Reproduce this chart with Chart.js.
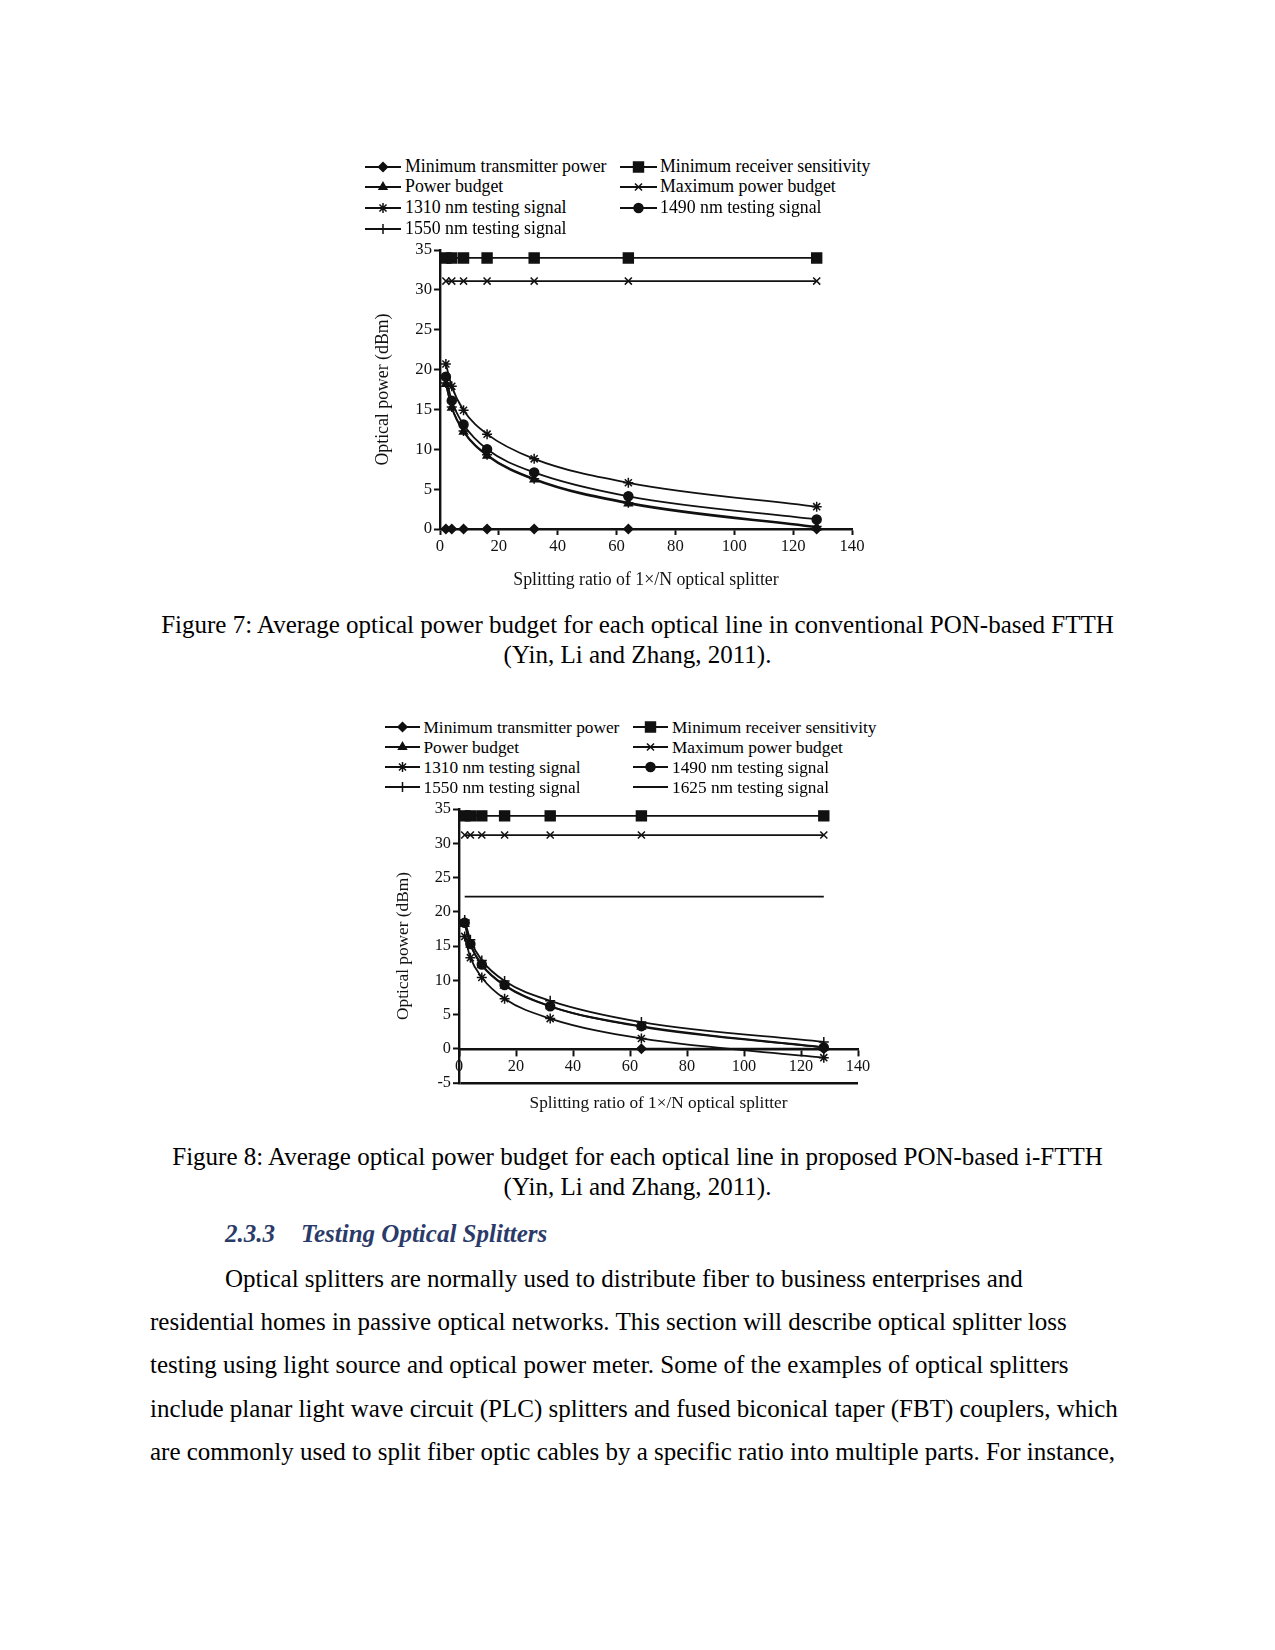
<!DOCTYPE html>
<html>
<head>
<meta charset="utf-8">
<title>Optical power budget - Figures 7 and 8</title>
<script src="https://cdn.jsdelivr.net/npm/chart.js@4.4.1/dist/chart.umd.min.js"></script>
<style>
    html, body { margin: 0; padding: 0; background: #fff; }
    body { width: 1275px; height: 1650px; position: relative; overflow: hidden;
           font-family: "Liberation Serif", "Times New Roman", serif; color: #000; }
    .txt { position: absolute; white-space: nowrap; font-size: 25px; line-height: 25px; }
    .center { left: 0; width: 1275px; text-align: center; }
    .heading { font-weight: bold; font-style: italic; color: #2b3b69; }
    .lg { position: absolute; white-space: nowrap; }
    canvas.chart { position: absolute; }
</style>
</head>
<body>

<canvas id="fig7" class="chart" width="530" height="370" style="left:355px;top:232px;width:530px;height:370px"></canvas>
<div id="fig7Legend"></div>
<div class="txt center" style="top:612px">Figure 7: Average optical power budget for each optical line in conventional PON-based FTTH</div>
<div class="txt center" style="top:642px">(Yin, Li and Zhang, 2011).</div>

<canvas id="fig8" class="chart" width="520" height="335" style="left:370px;top:790px;width:520px;height:335px"></canvas>
<div id="fig8Legend"></div>
<div class="txt center" style="top:1144px">Figure 8: Average optical power budget for each optical line in proposed PON-based i-FTTH</div>
<div class="txt center" style="top:1174px">(Yin, Li and Zhang, 2011).</div>

<div class="txt heading" style="left:225px;top:1221px">2.3.3</div>
<div class="txt heading" style="left:301px;top:1221px">Testing Optical Splitters</div>

<div class="txt" style="left:225px;top:1266px">Optical splitters are normally used to distribute fiber to business enterprises and</div>
<div class="txt" style="left:150px;top:1309px">residential homes in passive optical networks. This section will describe optical splitter loss</div>
<div class="txt" style="left:150px;top:1352px">testing using light source and optical power meter. Some of the examples of optical splitters</div>
<div class="txt" style="left:150px;top:1396px">include planar light wave circuit (PLC) splitters and fused biconical taper (FBT) couplers, which</div>
<div class="txt" style="left:150px;top:1439px">are commonly used to split fiber optic cables by a specific ratio into multiple parts. For instance,</div>

<script>
// ============================================
// Optical power budget vs splitting ratio (Fig. 7 & Fig. 8)
// ============================================

// --- Data ---
const splitRatios = [2, 4, 8, 16, 32, 64, 128];
const xTickValues = [0, 20, 40, 60, 80, 100, 120, 140];
const fig7YTicks = [0, 5, 10, 15, 20, 25, 30, 35];
const fig8YTicks = [-5, 0, 5, 10, 15, 20, 25, 30, 35];

// Figure 7: conventional PON-based FTTH
const fig7MinTransmitter = [0, 0, 0, 0, 0, 0, 0];
const fig7PowerBudget = [18.2, 15.2, 12.2, 9.2, 6.2, 3.2, 0.2];
const fig7Signal1310 = [20.7, 17.9, 14.9, 11.9, 8.8, 5.8, 2.8];
const fig7Signal1550 = [18.3, 15.3, 12.3, 9.3, 6.3, 3.3, 0.3];
const fig7MinReceiver = [34, 34, 34, 34, 34, 34, 34];
const fig7MaxBudget = [31.1, 31.1, 31.1, 31.1, 31.1, 31.1, 31.1];
const fig7Signal1490 = [19.1, 16.1, 13.1, 10.0, 7.1, 4.1, 1.2];

// Figure 8: proposed PON-based i-FTTH (transmitter marks only show from 1x64)
const fig8MinTransmitter = [null, null, null, null, null, 0, 0];
const fig8PowerBudget = [18.2, 15.2, 12.2, 9.2, 6.2, 3.2, 0.2];
const fig8Signal1310 = [16.4, 13.3, 10.4, 7.3, 4.4, 1.5, -1.3];
const fig8Signal1550 = [18.8, 15.9, 12.9, 9.9, 7.0, 3.9, 1.0];
const fig8MinReceiver = [34, 34, 34, 34, 34, 34, 34];
const fig8MaxBudget = [31.2, 31.2, 31.2, 31.2, 31.2, 31.2, 31.2];
const fig8Signal1490 = [18.4, 15.3, 12.3, 9.3, 6.2, 3.3, 0.2];
const fig8Signal1625 = [22.2, 22.2, 22.2, 22.2, 22.2, 22.2, 22.2];

// --- Styling helpers ---
const INK = '#111';
const SERIF = '"Liberation Serif", "Times New Roman", serif';

function series(label, values, pointStyle, radius) {
    return {
        label,
        data: splitRatios.map((n, i) => ({ x: n, y: values[i] })),
        borderColor: INK, backgroundColor: INK, borderWidth: 1.8,
        pointStyle, pointRadius: radius, pointBorderWidth: 1.5,
        pointBackgroundColor: INK, pointBorderColor: INK,
        cubicInterpolationMode: 'monotone', fill: false, clip: false
    };
}

function fixedTicks(values) {
    return scale => { scale.ticks = values.map(v => ({ value: v })); };
}

function buildChart(id, datasets, cfg) {
    return new Chart(document.getElementById(id), {
        type: 'line',
        data: { datasets },
        options: {
            responsive: false, animation: false, events: [],
            layout: { padding: cfg.padding },
            plugins: { legend: { display: false }, tooltip: { enabled: false } },
            scales: {
                x: {
                    type: 'linear', min: 0, max: 140, position: cfg.xPosition,
                    afterBuildTicks: fixedTicks(xTickValues),
                    afterFit: s => { s.height = cfg.xHeight; },
                    border: { color: INK, width: 2.4 },
                    grid: { drawOnChartArea: false, tickLength: 6, tickColor: INK, tickWidth: 2 },
                    ticks: { color: INK, font: { family: SERIF, size: cfg.tickSize }, padding: 2, maxRotation: 0, autoSkip: false },
                    title: { display: true, text: 'Splitting ratio of 1×/N optical splitter', color: INK,
                             font: { family: SERIF, size: cfg.titleSize }, padding: { top: 0, bottom: cfg.xTitlePad } }
                },
                y: {
                    type: 'linear', min: cfg.yTicks[0], max: cfg.yTicks[cfg.yTicks.length - 1],
                    afterBuildTicks: fixedTicks(cfg.yTicks),
                    afterFit: s => { s.width = cfg.yWidth; },
                    border: { color: INK, width: 2.4 },
                    grid: {
                        drawOnChartArea: true,
                        color: c => (c.tick && c.tick.value === cfg.baseLine) ? INK : 'rgba(0,0,0,0)',
                        lineWidth: c => (c.tick && c.tick.value === cfg.baseLine) ? 2.4 : 1,
                        tickLength: 6, tickColor: INK, tickWidth: 2
                    },
                    ticks: { color: INK, font: { family: SERIF, size: cfg.tickSize }, padding: 2, autoSkip: false },
                    title: { display: true, text: 'Optical power (dBm)', color: INK,
                             font: { family: SERIF, size: cfg.titleSize }, padding: { top: cfg.yTitlePad, bottom: 0 } }
                }
            }
        }
    });
}

// --- HTML legend with library-drawn point glyphs ---
function buildLegend(chart, holderId, slots, fontSize) {
    const holder = document.getElementById(holderId);
    chart.data.datasets.forEach((ds, i) => {
        const s = slots[i];
        const icon = document.createElement('canvas');
        icon.width = s.w; icon.height = 16;
        icon.className = 'lg';
        icon.style.left = s.x + 'px';
        icon.style.top = (s.base - 6 - 8) + 'px';
        const g = icon.getContext('2d');
        g.strokeStyle = INK; g.fillStyle = INK; g.lineWidth = ds.borderWidth;
        g.beginPath(); g.moveTo(0, 8); g.lineTo(s.w, 8); g.stroke();
        if (ds.pointRadius > 0 && Chart.helpers && Chart.helpers.drawPoint) {
            g.lineWidth = ds.pointBorderWidth;
            Chart.helpers.drawPoint(g, { pointStyle: ds.pointStyle, radius: ds.pointRadius,
                borderWidth: ds.pointBorderWidth, rotation: 0 }, s.w / 2, 8);
        }
        holder.appendChild(icon);

        const label = document.createElement('div');
        label.className = 'lg';
        label.textContent = ds.label;
        label.style.cssText += `font-size:${fontSize}px;line-height:${fontSize}px;left:${s.tx}px;top:${s.base - 0.8375 * fontSize}px`;
        holder.appendChild(label);
    });
}

// --- Figure 7 ---
const fig7 = buildChart('fig7', [
    series('Minimum transmitter power', fig7MinTransmitter, 'rectRot', 4.5),
    series('Power budget', fig7PowerBudget, 'triangle', 4.5),
    series('1310 nm testing signal', fig7Signal1310, 'star', 5),
    series('1550 nm testing signal', fig7Signal1550, 'cross', 5),
    series('Minimum receiver sensitivity', fig7MinReceiver, 'rect', 7),
    series('Maximum power budget', fig7MaxBudget, 'crossRot', 5),
    series('1490 nm testing signal', fig7Signal1490, 'circle', 4.5)
], {
    padding: { top: 18, right: 33, bottom: 0, left: 0 },
    xPosition: 'bottom', xHeight: 73, yWidth: 85,
    xTitlePad: 11, yTitlePad: 18, tickSize: 16.7, titleSize: 17.8,
    yTicks: fig7YTicks, baseLine: null
});

buildLegend(fig7, 'fig7Legend', [
    { x: 365, w: 36, tx: 405, base: 172.7 },
    { x: 365, w: 36, tx: 405, base: 193.4 },
    { x: 365, w: 36, tx: 405, base: 214.1 },
    { x: 365, w: 36, tx: 405, base: 234.8 },
    { x: 620, w: 37, tx: 660, base: 172.7 },
    { x: 620, w: 37, tx: 660, base: 193.4 },
    { x: 620, w: 37, tx: 660, base: 214.1 }
], 17.8);

// --- Figure 8 ---
const fig8 = buildChart('fig8', [
    series('Minimum transmitter power', fig8MinTransmitter, 'rectRot', 4.5),
    series('Power budget', fig8PowerBudget, 'triangle', 4.5),
    series('1310 nm testing signal', fig8Signal1310, 'star', 5),
    series('1550 nm testing signal', fig8Signal1550, 'cross', 5),
    series('Minimum receiver sensitivity', fig8MinReceiver, 'rect', 7),
    series('Maximum power budget', fig8MaxBudget, 'crossRot', 5),
    series('1490 nm testing signal', fig8Signal1490, 'circle', 4.5),
    series('1625 nm testing signal', fig8Signal1625, 'circle', 0)
], {
    padding: { top: 19, right: 32, bottom: 42, left: 0 },
    xPosition: { y: 0 }, xHeight: 65, yWidth: 89,
    xTitlePad: 0, yTitlePad: 22.6, tickSize: 16.3, titleSize: 17.3,
    yTicks: fig8YTicks, baseLine: -5
});

buildLegend(fig8, 'fig8Legend', [
    { x: 385, w: 35, tx: 423.5, base: 733.3 },
    { x: 385, w: 35, tx: 423.5, base: 753.3 },
    { x: 385, w: 35, tx: 423.5, base: 773.3 },
    { x: 385, w: 35, tx: 423.5, base: 793.3 },
    { x: 633, w: 35, tx: 672, base: 733.3 },
    { x: 633, w: 35, tx: 672, base: 753.3 },
    { x: 633, w: 35, tx: 672, base: 773.3 },
    { x: 633, w: 35, tx: 672, base: 793.3 }
], 17.3);
</script>
</body>
</html>
